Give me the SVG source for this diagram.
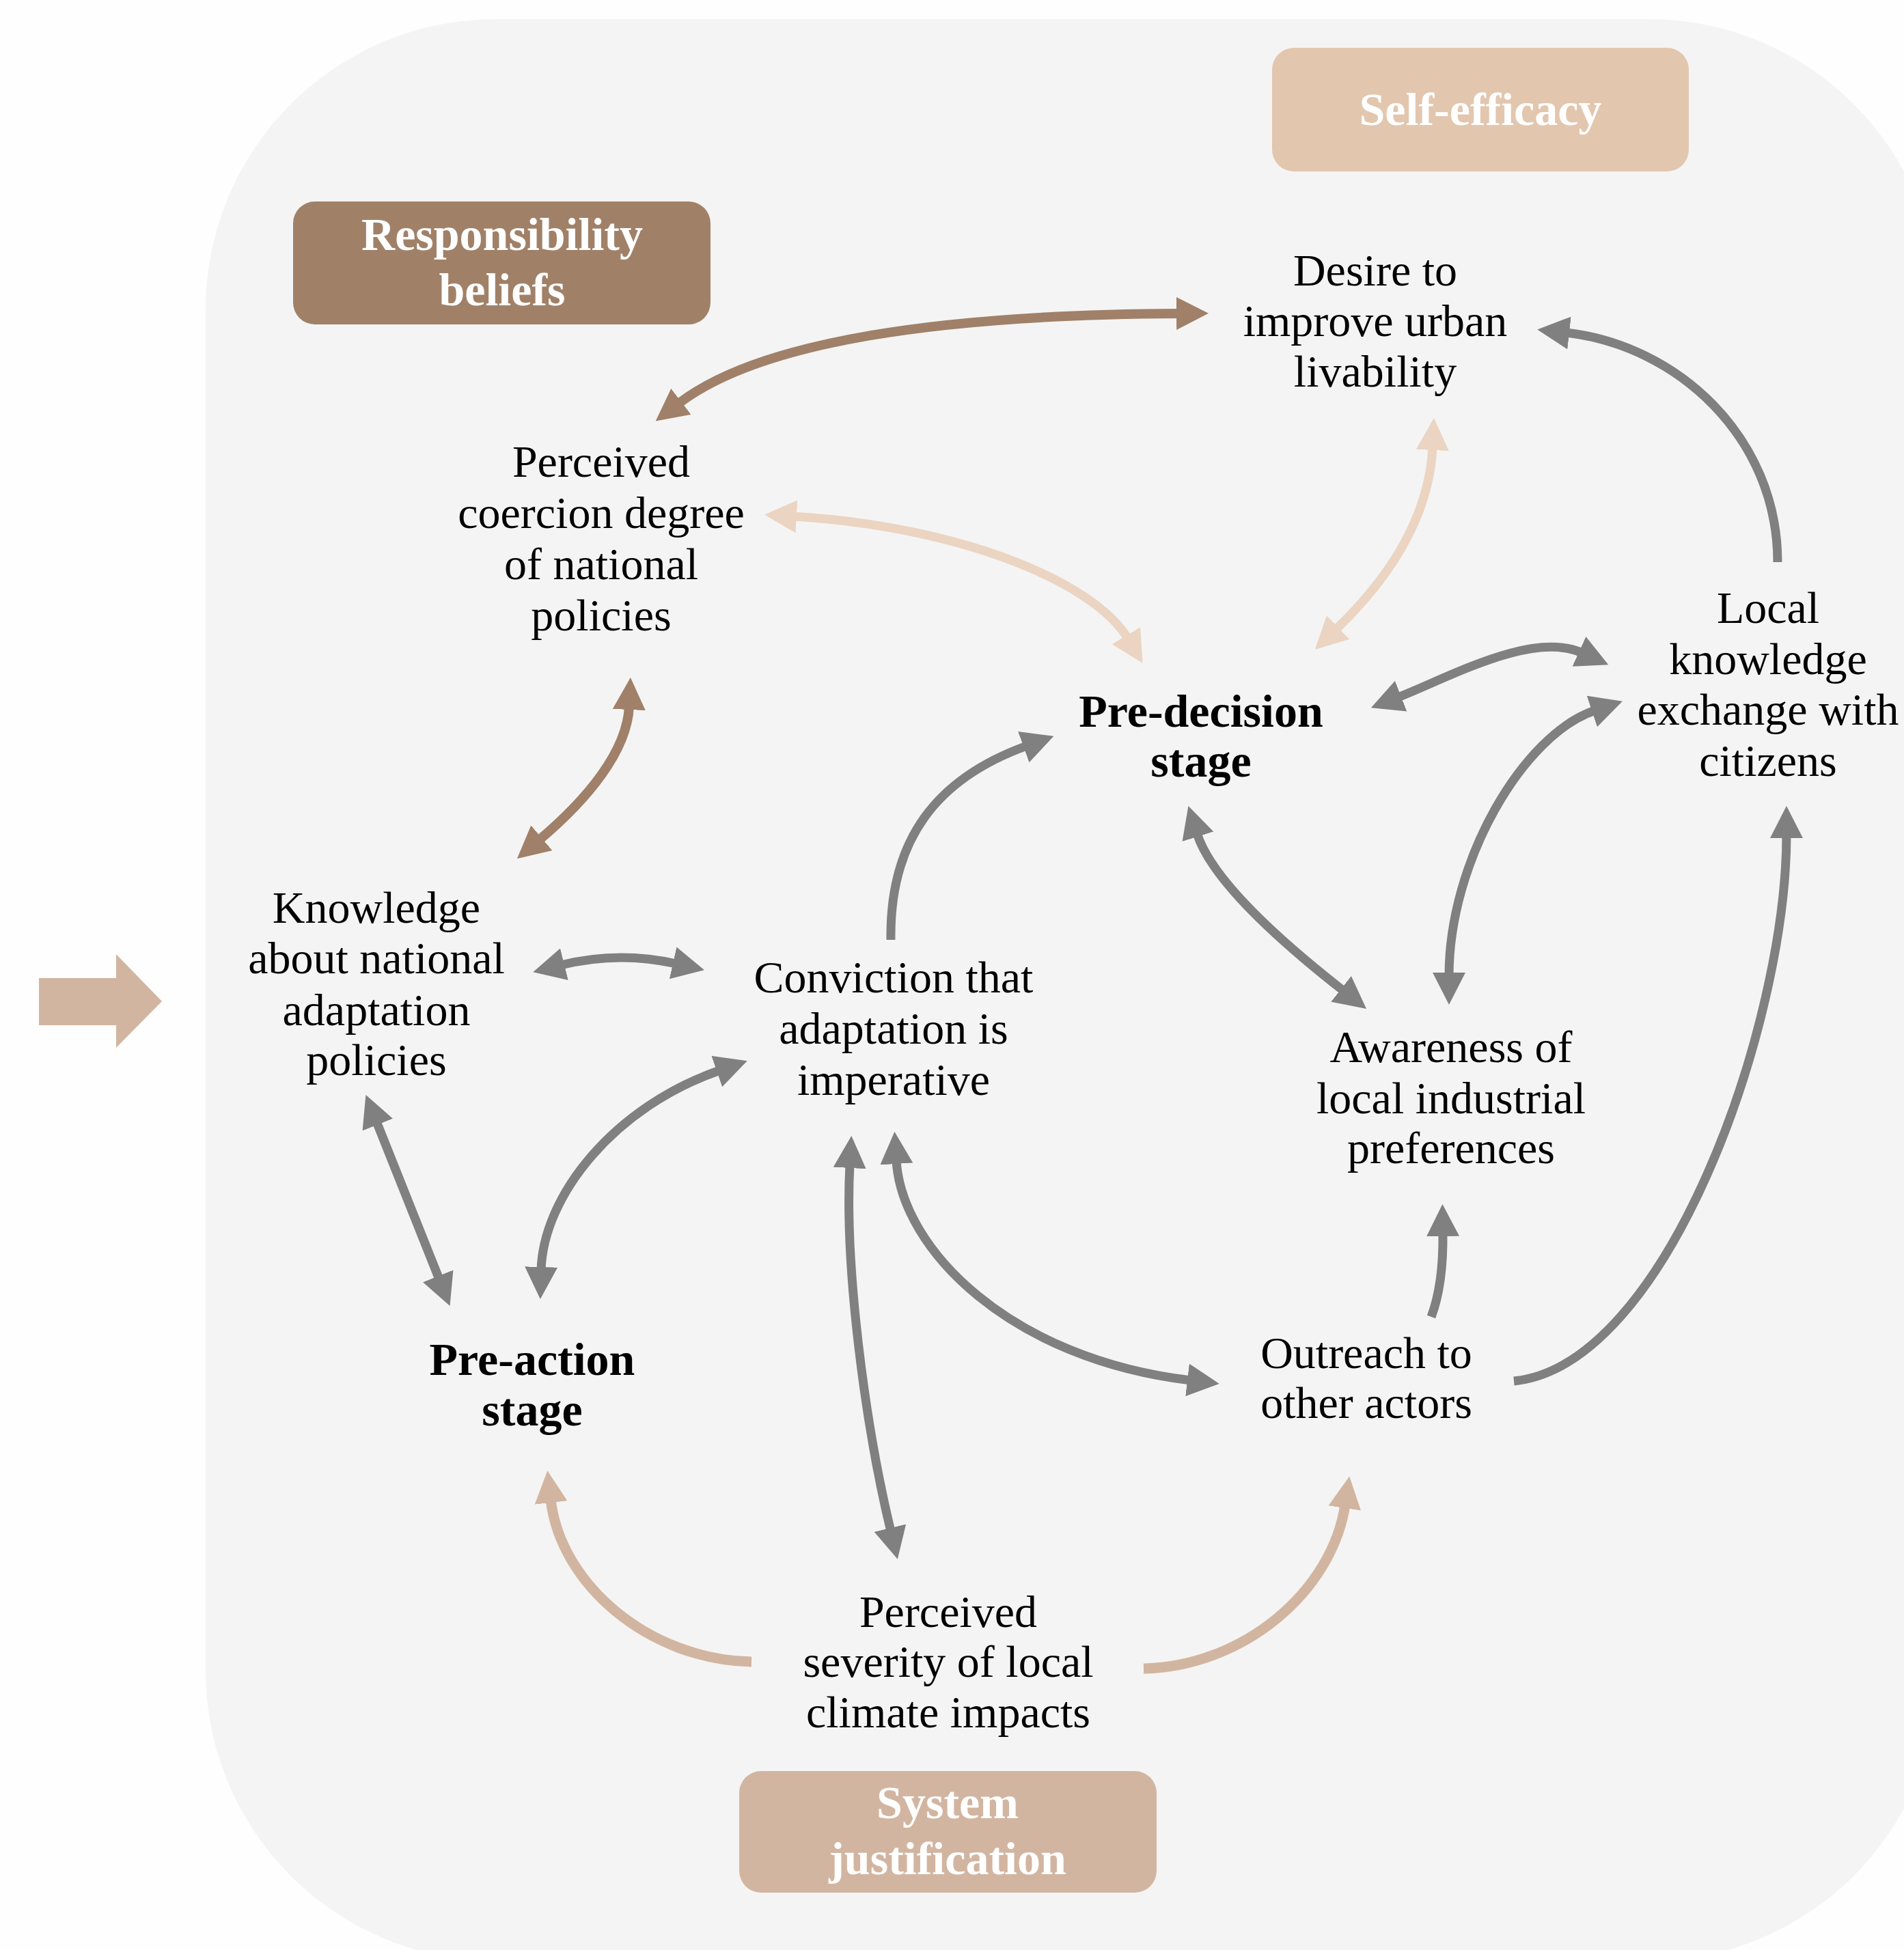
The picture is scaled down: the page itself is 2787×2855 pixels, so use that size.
<svg xmlns="http://www.w3.org/2000/svg" width="2787" height="2855" viewBox="0 0 2787 2855">
<style>
.t{font-family:"Liberation Serif","Times New Roman",serif;font-size:66px;fill:#000;text-anchor:middle}
.b{font-family:"Liberation Serif","Times New Roman",serif;font-size:68px;font-weight:bold;fill:#000;text-anchor:middle}
.w{font-family:"Liberation Serif","Times New Roman",serif;font-size:68px;font-weight:bold;fill:#fff;text-anchor:middle}
.c{fill:none;stroke-linecap:butt}
.g{stroke:#808080;stroke-width:13}
.br{stroke:#a08068;stroke-width:14}
.pe{stroke:#ebd4c1;stroke-width:13}
.ta{stroke:#d2b5a0;stroke-width:15}
</style>
<defs>
<marker id="mg" viewBox="0 0 47 48" markerWidth="47" markerHeight="48" refX="5" refY="24" orient="auto-start-reverse" markerUnits="userSpaceOnUse"><path d="M0,0 L47,24 L0,48 Z" fill="#808080"/></marker>
<marker id="mb" viewBox="0 0 47 48" markerWidth="47" markerHeight="48" refX="5" refY="24" orient="auto-start-reverse" markerUnits="userSpaceOnUse"><path d="M0,0 L47,24 L0,48 Z" fill="#a08068"/></marker>
<marker id="mp" viewBox="0 0 47 48" markerWidth="47" markerHeight="48" refX="5" refY="24" orient="auto-start-reverse" markerUnits="userSpaceOnUse"><path d="M0,0 L47,24 L0,48 Z" fill="#ebd4c1"/></marker>
<marker id="mt" viewBox="0 0 47 48" markerWidth="47" markerHeight="48" refX="5" refY="24" orient="auto-start-reverse" markerUnits="userSpaceOnUse"><path d="M0,0 L47,24 L0,48 Z" fill="#d2b5a0"/></marker>
</defs>
<rect width="2787" height="2855" fill="#fefefe"/>
<rect x="301" y="28" width="2537" height="2843" rx="425" ry="425" fill="#f4f4f4"/>
<polygon id="input-arrow" points="57,1432 170,1432 170,1397 237,1466 170,1534 170,1501 57,1501" fill="#d2b5a0"/>

<g id="connectors">
<path class="c br" d="M993,591 Q1161,462 1727,459" marker-start="url(#mb)" marker-end="url(#mb)"/>
<path class="c br" d="M921,1034 C918,1100 860,1170 789,1230" marker-start="url(#mb)" marker-end="url(#mb)"/>
<path class="c pe" d="M1161,756 C1400,770 1600,850 1651,935" marker-start="url(#mp)" marker-end="url(#mp)"/>
<path class="c pe" d="M2097,654 C2092,760 2030,850 1955,922" marker-start="url(#mp)" marker-end="url(#mp)"/>
<path class="c g" d="M2602,823 C2602,640 2455,505 2292,487" marker-end="url(#mg)"/>
<path class="c g" d="M2046,1021 C2121,992 2243,923 2316,956" marker-start="url(#mg)" marker-end="url(#mg)"/>
<path class="c g" d="M2335,1040 C2230,1075 2121,1260 2121,1429" marker-start="url(#mg)" marker-end="url(#mg)"/>
<path class="c g" d="M1752,1220 Q1778,1303 1967,1451" marker-start="url(#mg)" marker-end="url(#mg)"/>
<path class="c g" d="M2095,1928 Q2113,1880 2112,1805" marker-end="url(#mg)"/>
<path class="c g" d="M2216,2022 C2440,2000 2615,1500 2615,1222" marker-end="url(#mg)"/>
<path class="c g" d="M1304,1376 C1302,1230 1370,1140 1503,1092" marker-end="url(#mg)"/>
<path class="c g" d="M821,1413 Q905,1392 990,1411" marker-start="url(#mg)" marker-end="url(#mg)"/>
<path class="c g" d="M551,1642 L643,1873" marker-start="url(#mg)" marker-end="url(#mg)"/>
<path class="c g" d="M792,1860 C795,1750 900,1620 1054,1567" marker-start="url(#mg)" marker-end="url(#mg)"/>
<path class="c g" d="M1244,1705 C1236,1850 1265,2080 1304,2242" marker-start="url(#mg)" marker-end="url(#mg)"/>
<path class="c g" d="M1312,1699 C1320,1830 1480,1990 1743,2021" marker-start="url(#mg)" marker-end="url(#mg)"/>
<path class="c ta" d="M1100,2433 C950,2430 820,2320 806,2195" marker-end="url(#mt)"/>
<path class="c ta" d="M1674,2443 C1820,2440 1950,2330 1969,2203" marker-end="url(#mt)"/>
</g>

<g id="responsibility-beliefs">
<rect x="429" y="295" width="611" height="180" rx="32" fill="#a08168"/>
<text class="w" x="735" y="366">Responsibility</text>
<text class="w" x="735" y="447">beliefs</text>
</g>
<g id="self-efficacy">
<rect x="1862" y="70" width="610" height="181" rx="32" fill="#e2c6ae"/>
<text class="w" x="2167" y="183">Self-efficacy</text>
</g>
<g id="system-justification">
<rect x="1082" y="2593" width="611" height="178" rx="32" fill="#d2b5a0"/>
<text class="w" x="1387" y="2662">System</text>
<text class="w" x="1387" y="2744">justification</text>
</g>

<g id="perceived-coercion">
<text class="t" x="880" y="698">Perceived</text>
<text class="t" x="880" y="773">coercion degree</text>
<text class="t" x="880" y="848">of national</text>
<text class="t" x="880" y="923">policies</text>
</g>
<g id="desire-livability">
<text class="t" x="2013" y="418">Desire to</text>
<text class="t" x="2013" y="492">improve urban</text>
<text class="t" x="2013" y="566">livability</text>
</g>
<g id="local-knowledge-exchange">
<text class="t" x="2588" y="912">Local</text>
<text class="t" x="2588" y="987">knowledge</text>
<text class="t" x="2588" y="1061">exchange with</text>
<text class="t" x="2588" y="1136">citizens</text>
</g>
<g id="pre-decision-stage">
<text class="b" x="1758" y="1064">Pre-decision</text>
<text class="b" x="1758" y="1137">stage</text>
</g>
<g id="knowledge-national">
<text class="t" x="551" y="1351">Knowledge</text>
<text class="t" x="551" y="1425">about national</text>
<text class="t" x="551" y="1501">adaptation</text>
<text class="t" x="551" y="1574">policies</text>
</g>
<g id="conviction">
<text class="t" x="1308" y="1453">Conviction that</text>
<text class="t" x="1308" y="1528">adaptation is</text>
<text class="t" x="1308" y="1603">imperative</text>
</g>
<g id="awareness-industrial">
<text class="t" x="2124" y="1555">Awareness of</text>
<text class="t" x="2124" y="1630">local industrial</text>
<text class="t" x="2124" y="1703">preferences</text>
</g>
<g id="pre-action-stage">
<text class="b" x="779" y="2013">Pre-action</text>
<text class="b" x="779" y="2087">stage</text>
</g>
<g id="outreach">
<text class="t" x="2000" y="2003">Outreach to</text>
<text class="t" x="2000" y="2076">other actors</text>
</g>
<g id="perceived-severity">
<text class="t" x="1388" y="2382">Perceived</text>
<text class="t" x="1388" y="2455">severity of local</text>
<text class="t" x="1388" y="2529">climate impacts</text>
</g>
</svg>
